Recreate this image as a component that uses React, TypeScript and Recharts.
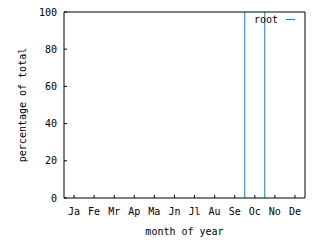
import { BarChart, Bar, XAxis, YAxis, Legend } from "recharts";

const months = ["Ja", "Fe", "Mr", "Ap", "Ma", "Jn", "Jl", "Au", "Se", "Oc", "No", "De"];
const rootValues = [0, 0, 0, 0, 0, 0, 0, 0, 0, 100, 0, 0];
const yTicks = [0, 20, 40, 60, 80, 100];

const data = months.map((m, i) => ({ month: m, root: rootValues[i] }));

const FONT = "'DejaVu Sans Mono', monospace";
const BLUE = "#1a7ae6";

// gnuplot-style box: only the two sides show, the top/bottom sit under the border
const BoxSides = (props: any) => {
  const { x, y, width, height } = props;
  if (!height) return null;
  return (
    <g stroke={BLUE} strokeWidth={1} fill="none">
      <line x1={x} y1={y} x2={x} y2={y + height} />
      <line x1={x + width} y1={y} x2={x + width} y2={y + height} />
    </g>
  );
};

const renderKey = () => (
  <div style={{ fontFamily: FONT, fontSize: 10, color: "#000", display: "flex", alignItems: "center" }}>
    <span>root</span>
    <span style={{ display: "inline-block", width: 9, height: 1, background: BLUE, marginLeft: 8 }} />
  </div>
);

export default function App() {
  return (
    <div style={{ position: "absolute", left: 0, top: 0, background: "#fff" }}>
      <BarChart
        width={320}
        height={240}
        data={data}
        margin={{ top: 0, right: 0, bottom: 0, left: 0 }}
        barCategoryGap={0}
      >
        <XAxis
          dataKey="month"
          xAxisId="bottom"
          height={42}
          stroke="#000"
          tickSize={-3}
          tickMargin={13}
          tick={{ fill: "#000", fontFamily: FONT, fontSize: 10 }}
          interval={0}
          label={{ value: "month of year", position: "center", dy: 12, fill: "#000", fontFamily: FONT, fontSize: 10 }}
        />
        <XAxis
          dataKey="month"
          xAxisId="top"
          orientation="top"
          height={12}
          stroke="#000"
          tickSize={-3}
          tick={false}
          interval={0}
        />
        <YAxis
          yAxisId="left"
          width={64}
          domain={[0, 100]}
          ticks={yTicks}
          stroke="#000"
          tickSize={-3}
          tickMargin={10}
          tick={{ fill: "#000", fontFamily: FONT, fontSize: 10 }}
          label={{ value: "percentage of total", angle: -90, position: "center", dx: -10, fill: "#000", fontFamily: FONT, fontSize: 10 }}
        />
        <YAxis
          yAxisId="right"
          orientation="right"
          width={15}
          domain={[0, 100]}
          ticks={yTicks}
          stroke="#000"
          tickSize={-3}
          tick={false}
        />
        <Legend
          content={renderKey}
          layout="horizontal"
          verticalAlign="middle"
          wrapperStyle={{ position: "absolute", top: 14, left: 254, width: 50 }}
        />
        <Bar
          dataKey="root"
          xAxisId="bottom"
          yAxisId="left"
          shape={BoxSides}
          isAnimationActive={false}
        />
      </BarChart>
    </div>
  );
}
